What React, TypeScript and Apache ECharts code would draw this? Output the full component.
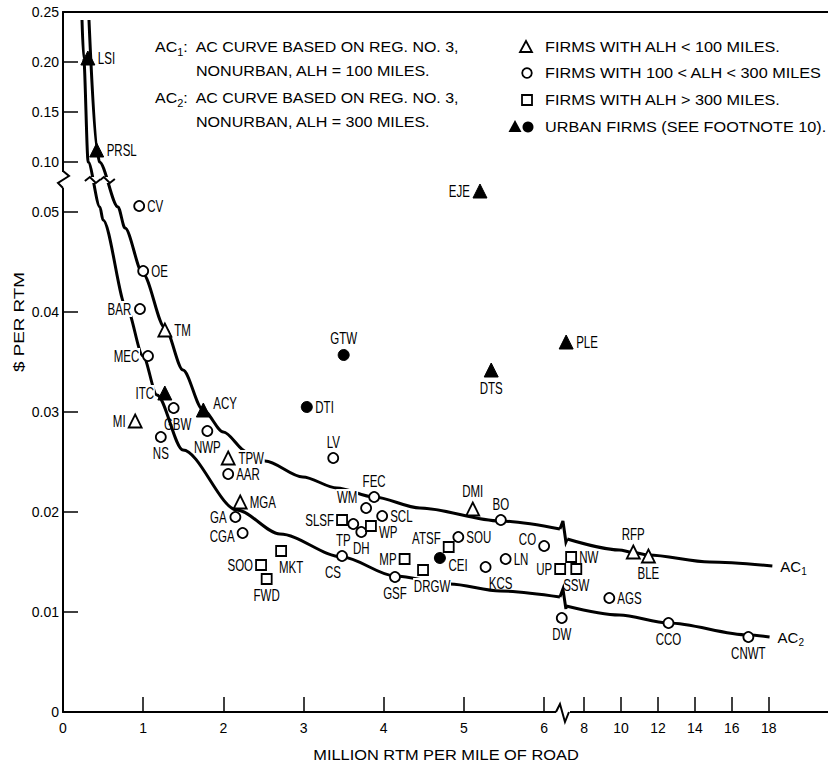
import React, { useEffect, useRef } from 'react';
import * as echarts from 'echarts';

// ---------- tick labels ----------
const xTickValues = [0, 1, 2, 3, 4, 5, 6, 8, 10, 12, 14, 16, 18];
const yTickValues = [0, 0.01, 0.02, 0.03, 0.04, 0.05, 0.1, 0.15, 0.2, 0.25];

// ---------- titles / texts ----------
const xAxisTitle = 'MILLION RTM PER MILE OF ROAD';
const yAxisTitle = '$ PER RTM';
const legendLabels = [
  'FIRMS WITH ALH < 100 MILES.',
  'FIRMS WITH 100 < ALH < 300 MILES',
  'FIRMS WITH ALH > 300 MILES.',
  'URBAN FIRMS (SEE FOOTNOTE 10).',
];
const noteLines = [
  ['1', 'AC CURVE BASED ON REG. NO. 3,', 'NONURBAN, ALH = 100 MILES.'],
  ['2', 'AC CURVE BASED ON REG. NO. 3,', 'NONURBAN, ALH = 300 MILES.'],
];

// ---------- firms (x: million RTM per mile of road, y: $ per RTM) ----------
const openTriangleNames = ['TM', 'MI', 'TPW', 'MGA', 'DMI', 'RFP', 'BLE'];
const openTriangleX = [1.27, 0.9, 2.06, 2.21, 5.11, 10.66, 11.48];
const openTriangleY = [0.0382, 0.0291, 0.0254, 0.021, 0.0203, 0.016, 0.0156];

const openCircleNames = ['CV', 'OE', 'BAR', 'MEC', 'GBW', 'NS', 'NWP', 'AAR', 'GA', 'CGA', 'LV', 'FEC', 'WM', 'SCL', 'TP', 'DH', 'CS', 'GSF', 'SOU', 'LN', 'KCS', 'CO', 'BO', 'DW', 'AGS', 'CCO', 'CNWT'];
const openCircleX = [0.95, 1.0, 0.96, 1.06, 1.38, 1.22, 1.8, 2.06, 2.15, 2.24, 3.37, 3.88, 3.78, 3.98, 3.62, 3.72, 3.48, 4.14, 4.93, 5.52, 5.27, 6.0, 5.46, 6.22, 9.36, 12.57, 16.9];
const openCircleY = [0.0506, 0.0441, 0.0403, 0.0356, 0.0304, 0.0275, 0.0281, 0.0238, 0.0195, 0.0179, 0.0254, 0.0215, 0.0204, 0.0196, 0.0188, 0.018, 0.0156, 0.0135, 0.0175, 0.0153, 0.0145, 0.0166, 0.0192, 0.0094, 0.0114, 0.0089, 0.0075];

const openSquareNames = ['SOO', 'FWD', 'MKT', 'SLSF', 'WP', 'MP', 'ATSF', 'DRGW', 'NW', 'UP', 'SSW'];
const openSquareX = [2.47, 2.54, 2.72, 3.48, 3.84, 4.26, 4.81, 4.49, 7.29, 6.2, 7.57];
const openSquareY = [0.0147, 0.0133, 0.0161, 0.0192, 0.0186, 0.0153, 0.0165, 0.0142, 0.0155, 0.0143, 0.0143];

const urbanTriangleNames = ['LSI', 'PRSL', 'ITC', 'ACY', 'EJE', 'DTS', 'PLE'];
const urbanTriangleX = [0.31, 0.42, 1.27, 1.75, 5.2, 5.34, 7.02];
const urbanTriangleY = [0.204, 0.112, 0.0319, 0.0302, 0.0521, 0.0342, 0.037];

const urbanCircleNames = ['GTW', 'DTI', 'CEI'];
const urbanCircleX = [3.5, 3.04, 4.7];
const urbanCircleY = [0.0357, 0.0305, 0.0154];

// ---------- average cost curves (left / right of the x-axis break) ----------
const ac1LeftX = [0.324, 0.424, 0.454, 0.686, 0.773, 0.998, 1.272, 1.496, 1.746, 2.0, 2.294, 2.519, 2.99, 3.416, 3.878, 4.451, 5.449, 6.197];
const ac1LeftY = [0.242, 0.112, 0.1, 0.0505, 0.0484, 0.0438, 0.0384, 0.0342, 0.0302, 0.028, 0.026, 0.0251, 0.0235, 0.0224, 0.0215, 0.0204, 0.0191, 0.0183];
const ac1RightX = [7.08, 9.9, 10.66, 11.48, 14.8, 18.2];
const ac1RightY = [0.0173, 0.0162, 0.01595, 0.0157, 0.015, 0.0146];

const ac2LeftX = [0.237, 0.258, 0.314, 0.46, 0.499, 0.798, 0.998, 1.172, 1.496, 2.17, 2.706, 3.479, 4.14, 4.825, 5.45, 6.197];
const ac2LeftY = [0.242, 0.204, 0.1, 0.0505, 0.0492, 0.0403, 0.0356, 0.0317, 0.0262, 0.0202, 0.0178, 0.0155, 0.0136, 0.0128, 0.0121, 0.0115];
const ac2RightX = [7.02, 9.9, 12.57, 16.9, 18.05];
const ac2RightY = [0.0106, 0.0097, 0.0089, 0.0077, 0.0075];

// ---------- broken-scale mapping (value -> display coordinate) ----------
const X_MAX = 9.54;
const Y_MAX = 7;
const X_BREAK_DISPLAY = 6.235;
const Y_BREAK_DISPLAY = 5.32;
const fx = (x: number) => (x < 6.6 ? x : 6.5 + (x - 8) * 0.23);
const fy = (v: number) => (v < 0.075 ? v * 100 : 5.5 + (v - 0.1) * 10);

const xTickDisplay = xTickValues.map(fx);
const yTickDisplay = yTickValues.map(fy);

// ---------- label placement ----------
type Place = { pos: string; dx?: number; dy?: number; bg?: boolean };
const labelPlacement: Record<string, Place> = {
  TM: { pos: 'right' }, MI: { pos: 'left' }, TPW: { pos: 'right', bg: true }, MGA: { pos: 'right' },
  DMI: { pos: 'top' }, RFP: { pos: 'top' }, BLE: { pos: 'bottom' },
  CV: { pos: 'right' }, OE: { pos: 'right' }, BAR: { pos: 'left', bg: true }, MEC: { pos: 'left', bg: true },
  GBW: { pos: 'bottom', dx: 4 }, NS: { pos: 'bottom' }, NWP: { pos: 'bottom' }, AAR: { pos: 'right' },
  GA: { pos: 'left', bg: true }, CGA: { pos: 'left', dy: 3 }, LV: { pos: 'top' }, FEC: { pos: 'top' },
  WM: { pos: 'left', dy: -11, bg: true }, SCL: { pos: 'right' }, TP: { pos: 'bottom', dx: -10 },
  DH: { pos: 'bottom' }, CS: { pos: 'bottom', dx: -9 }, GSF: { pos: 'bottom' }, SOU: { pos: 'right' },
  LN: { pos: 'right' }, KCS: { pos: 'bottom', dx: 15 }, CO: { pos: 'left', dy: -7 }, BO: { pos: 'top' },
  DW: { pos: 'bottom' }, AGS: { pos: 'right' }, CCO: { pos: 'bottom' }, CNWT: { pos: 'bottom' },
  SOO: { pos: 'left' }, FWD: { pos: 'bottom' }, MKT: { pos: 'bottom', dx: 10 }, SLSF: { pos: 'left' },
  WP: { pos: 'right', dy: 6 }, MP: { pos: 'left' }, ATSF: { pos: 'left', dy: -9 }, DRGW: { pos: 'bottom', dx: 9, bg: true },
  NW: { pos: 'right' }, UP: { pos: 'left' }, SSW: { pos: 'bottom' },
  LSI: { pos: 'right' }, PRSL: { pos: 'right' }, ITC: { pos: 'left', bg: true }, ACY: { pos: 'right', dy: -7 },
  EJE: { pos: 'left' }, DTS: { pos: 'bottom' }, PLE: { pos: 'right' },
  GTW: { pos: 'top' }, DTI: { pos: 'right' }, CEI: { pos: 'right', dy: 7 },
};

const TEXT_FONT = "'Liberation Sans', Arial, sans-serif";
const INK = '#000';

const firmGroups = [
  { names: openTriangleNames, xs: openTriangleX, ys: openTriangleY, r: 6.5 },
  { names: openCircleNames, xs: openCircleX, ys: openCircleY, r: 5 },
  { names: openSquareNames, xs: openSquareX, ys: openSquareY, r: 5 },
  { names: urbanTriangleNames, xs: urbanTriangleX, ys: urbanTriangleY, r: 7 },
  { names: urbanCircleNames, xs: urbanCircleX, ys: urbanCircleY, r: 5.5 },
];
const labelItems = firmGroups.flatMap((g) => g.names.map((n, i) => ({ name: n, x: g.xs[i], y: g.ys[i], r: g.r })));

function makePoints(names: string[], xs: number[], ys: number[]) {
  return names.map((n, i) => ({ name: n, value: [fx(xs[i]), fy(ys[i])] }));
}

function curveData(xs: number[], ys: number[]) {
  return xs.map((x, i) => [fx(x), fy(ys[i])]);
}

function yGapPoint(xs: number[], ys: number[]) {
  for (let i = 0; i < xs.length - 1; i++) {
    const a = fy(ys[i]);
    const b = fy(ys[i + 1]);
    if (a >= Y_BREAK_DISPLAY && b < Y_BREAK_DISPLAY) {
      const t = (a - Y_BREAK_DISPLAY) / (a - b);
      return [fx(xs[i]) + t * (fx(xs[i + 1]) - fx(xs[i])), Y_BREAK_DISPLAY];
    }
  }
  return [0, 0];
}

function nearestIndex(arr: number[], v: number) {
  let best = 0;
  for (let i = 1; i < arr.length; i++) {
    if (Math.abs(arr[i] - v) < Math.abs(arr[best] - v)) best = i;
  }
  return best;
}

const acRich = {
  a: { fontSize: 15, fontFamily: TEXT_FONT, color: INK, lineHeight: 20 },
  s: { fontSize: 10, fontFamily: TEXT_FONT, color: INK, lineHeight: 11, verticalAlign: 'bottom' },
};
const acRichG = {
  a: { fontSize: 14.5, fontFamily: TEXT_FONT, fill: INK, lineHeight: 20 },
  s: { fontSize: 10, fontFamily: TEXT_FONT, fill: INK, lineHeight: 11, verticalAlign: 'bottom' },
};

export default function App() {
  const ref = useRef<HTMLDivElement>(null);

  useEffect(() => {
    if (!ref.current) return;
    const chart = echarts.init(ref.current, undefined, { renderer: 'svg' });

    const lineStyle = { color: '#000', width: 2 };
    const curveLine = { color: '#000', width: 3 };
    const openStyle = { color: '#fff', borderColor: '#000', borderWidth: 1.8, opacity: 1 };
    const fillStyle = { color: '#000', borderColor: '#000', borderWidth: 1, opacity: 1 };

    const curveSeries = (xs: number[], ys: number[], end?: string) => ({
      type: 'line',
      data: curveData(xs, ys),
      symbol: 'none',
      showSymbol: false,
      smooth: 0.3,
      smoothMonotone: 'x',
      lineStyle: curveLine,
      silent: true,
      z: 2,
      endLabel: end
        ? { show: true, formatter: `{a|AC}{s|${end}}`, rich: acRich, distance: 8 }
        : { show: false },
    });

    const xBreakPairs = [
      [ac1LeftX, ac1LeftY, ac1RightX, ac1RightY],
      [ac2LeftX, ac2LeftY, ac2RightX, ac2RightY],
    ].map(([lx, ly, rx, ry]) => [
      fx(lx[lx.length - 1]), fy(ly[ly.length - 1]), fx(rx[0]), fy(ry[0]),
    ]);

    const yGapMarks = [yGapPoint(ac1LeftX, ac1LeftY), yGapPoint(ac2LeftX, ac2LeftY)];

    const textStyle = (text: string, align = 'left') => ({
      text, fontSize: 14.5, fontFamily: TEXT_FONT, fill: INK,
      textAlign: align, align, verticalAlign: 'middle', textVerticalAlign: 'middle',
    });

    const graphic: any[] = [];
    // notes
    noteLines.forEach((nl, k) => {
      const y0 = k === 0 ? 47 : 98;
      graphic.push({
        type: 'text', x: 155, y: y0, scaleX: 1.1, silent: true,
        style: { text: `{a|AC}{s|${nl[0]}}{a|:  ${nl[1]}}`, rich: acRichG, verticalAlign: 'middle', textVerticalAlign: 'middle', textAlign: 'left' },
      });
      graphic.push({ type: 'text', x: 196, y: y0 + 24, scaleX: 1.11, silent: true, style: textStyle(nl[2]) });
    });
    // legend
    const rows = [47, 73, 100, 127];
    legendLabels.forEach((t, i) => {
      graphic.push({ type: 'text', x: 545, y: rows[i], scaleX: 1.12, silent: true, style: textStyle(t) });
    });
    graphic.push({ type: 'polygon', silent: true, shape: { points: [[526, rows[0] - 6], [532, rows[0] + 5], [520, rows[0] + 5]] }, style: { fill: '#fff', stroke: '#000', lineWidth: 1.8 } });
    graphic.push({ type: 'circle', silent: true, shape: { cx: 527, cy: rows[1], r: 4.8 }, style: { fill: '#fff', stroke: '#000', lineWidth: 1.8 } });
    graphic.push({ type: 'rect', silent: true, shape: { x: 522, y: rows[2] - 5, width: 10, height: 10 }, style: { fill: '#fff', stroke: '#000', lineWidth: 1.8 } });
    graphic.push({ type: 'polygon', silent: true, shape: { points: [[515, rows[3] - 7], [521.5, rows[3] + 5], [508.5, rows[3] + 5]] }, style: { fill: '#000' } });
    graphic.push({ type: 'circle', silent: true, shape: { cx: 528, cy: rows[3], r: 5.5 }, style: { fill: '#000' } });
    // axis titles
    graphic.push({ type: 'text', x: 446, y: 755, scaleX: 1.13, silent: true, style: textStyle(xAxisTitle, 'center') });
    graphic.push({ type: 'text', x: 19, y: 322, rotation: Math.PI / 2, scaleX: 1.3, silent: true, style: textStyle(yAxisTitle, 'center') });

    const scatter = (name: string, symbol: string, size: number, itemStyle: any, names: string[], xs: number[], ys: number[]) => ({
      name, type: 'scatter', symbol, symbolSize: size, z: 5, itemStyle,
      emphasis: { disabled: true }, label: { show: false },
      data: makePoints(names, xs, ys),
    });

    const option: any = {
      animation: false,
      backgroundColor: '#fff',
      grid: { left: 63, right: 0, top: 12, bottom: 54, containLabel: false },
      xAxis: [
        {
          type: 'value', min: 0, max: X_MAX,
          axisLine: { show: true, onZero: false, lineStyle },
          axisTick: { show: true, inside: true, length: 15, lineStyle: { color: '#000', width: 1.5 }, customValues: xTickDisplay.filter((v) => v > 0) },
          axisLabel: {
            show: true, customValues: xTickDisplay, margin: 9, fontSize: 14, fontFamily: TEXT_FONT, color: INK,
            formatter: (v: number) => String(xTickValues[nearestIndex(xTickDisplay, v)]),
          },
          splitLine: { show: false },
        },
        {
          type: 'value', position: 'top', min: 0, max: X_MAX,
          axisLine: { show: true, onZero: false, lineStyle },
          axisTick: { show: false }, axisLabel: { show: false }, splitLine: { show: false },
        },
      ],
      yAxis: {
        type: 'value', min: 0, max: Y_MAX,
        axisLine: { show: true, onZero: false, lineStyle },
        axisTick: { show: true, inside: true, length: 15, lineStyle: { color: '#000', width: 1.5 }, customValues: yTickDisplay.filter((v) => v > 0 && v < Y_MAX) },
        axisLabel: {
          show: true, customValues: yTickDisplay, margin: 4, fontSize: 14, fontFamily: TEXT_FONT, color: INK,
          formatter: (v: number) => {
            const t = yTickValues[nearestIndex(yTickDisplay, v)];
            return t === 0 ? '0' : t.toFixed(2);
          },
        },
        splitLine: { show: false },
      },
      graphic,
      series: [
        curveSeries(ac1LeftX, ac1LeftY),
        curveSeries(ac1RightX, ac1RightY, '1'),
        curveSeries(ac2LeftX, ac2LeftY),
        curveSeries(ac2RightX, ac2RightY, '2'),
        {
          type: 'custom', silent: true, clip: false, z: 3,
          data: xBreakPairs,
          renderItem: (params: any, api: any) => {
            const a = api.coord([api.value(0), api.value(1)]);
            const b = api.coord([api.value(2), api.value(3)]);
            return {
              type: 'polyline',
              shape: { points: [a, [a[0] + 3, a[1] - 8], [a[0] + 6, b[1] + 3], b] },
              style: { stroke: '#000', lineWidth: 3, fill: null },
            };
          },
        },
        {
          type: 'custom', silent: true, clip: false, z: 3,
          data: yGapMarks,
          renderItem: (params: any, api: any) => {
            const c = api.coord([api.value(0), api.value(1)]);
            return {
              type: 'group',
              children: [
                { type: 'rect', shape: { x: c[0] - 8, y: c[1] - 3, width: 16, height: 6 }, style: { fill: '#fff' } },
                { type: 'polyline', shape: { points: [[c[0] - 8, c[1] + 1], [c[0] - 3, c[1] - 3], [c[0] + 3, c[1] + 3], [c[0] + 8, c[1] - 1]] }, style: { stroke: '#000', lineWidth: 2, fill: null } },
              ],
            };
          },
        },
        {
          type: 'custom', silent: true, clip: false, z: 6,
          data: [[X_BREAK_DISPLAY, 0, 0], [0, Y_BREAK_DISPLAY, 1]],
          renderItem: (params: any, api: any) => {
            const c = api.coord([api.value(0), api.value(1)]);
            const kind = api.value(2);
            if (kind === 1) {
              return {
                type: 'group',
                children: [
                  { type: 'rect', shape: { x: c[0] - 3, y: c[1] - 8, width: 6, height: 16 }, style: { fill: '#fff' } },
                  { type: 'polyline', shape: { points: [[c[0], c[1] - 9], [c[0] + 6, c[1] - 4], [c[0] - 5, c[1] + 3], [c[0], c[1] + 8]] }, style: { stroke: '#000', lineWidth: 2, fill: null } },
                ],
              };
            }
            return {
              type: 'group',
              children: [
                { type: 'rect', shape: { x: c[0] - 7, y: c[1] - 3, width: 14, height: 6 }, style: { fill: '#fff' } },
                { type: 'polyline', shape: { points: [[c[0] - 7, c[1]], [c[0] - 3, c[1] - 8], [c[0] + 2, c[1] + 10], [c[0] + 6, c[1]]] }, style: { stroke: '#000', lineWidth: 2, fill: null } },
              ],
            };
          },
        },
        scatter('FIRMS WITH ALH < 100 MILES', 'triangle', 13, openStyle, openTriangleNames, openTriangleX, openTriangleY),
        scatter('FIRMS WITH 100 < ALH < 300 MILES', 'circle', 10, openStyle, openCircleNames, openCircleX, openCircleY),
        scatter('FIRMS WITH ALH > 300 MILES', 'rect', 10, openStyle, openSquareNames, openSquareX, openSquareY),
        scatter('URBAN FIRMS (TRIANGLE)', 'triangle', 14, fillStyle, urbanTriangleNames, urbanTriangleX, urbanTriangleY),
        scatter('URBAN FIRMS (CIRCLE)', 'circle', 11, fillStyle, urbanCircleNames, urbanCircleX, urbanCircleY),
        {
          type: 'custom', silent: true, clip: false, z: 7,
          data: labelItems.map((it, i) => [fx(it.x), fy(it.y), i]),
          renderItem: (params: any, api: any) => {
            const it = labelItems[api.value(2)];
            const p = labelPlacement[it.name] || { pos: 'right' };
            const c = api.coord([api.value(0), api.value(1)]);
            const d = it.r + 3;
            let x = c[0];
            let y = c[1];
            let align = 'center';
            let va = 'middle';
            if (p.pos === 'right') { x += d; align = 'left'; }
            else if (p.pos === 'left') { x -= d; align = 'right'; }
            else if (p.pos === 'top') { y -= d; va = 'bottom'; }
            else { y += d; va = 'top'; }
            x += p.dx || 0;
            y += p.dy || 0;
            const style: any = {
              text: it.name, fontSize: 16, fontFamily: TEXT_FONT, fill: INK,
              textAlign: align, align, verticalAlign: va, textVerticalAlign: va,
            };
            if (p.bg) { style.backgroundColor = '#fff'; style.padding = [0, 1]; }
            return { type: 'text', x, y, scaleX: 0.72, style };
          },
        },
      ],
    };

    chart.setOption(option);
    return () => chart.dispose();
  }, []);

  return <div ref={ref} style={{ position: 'absolute', left: 0, top: 0, width: 828, height: 766 }} />;
}
